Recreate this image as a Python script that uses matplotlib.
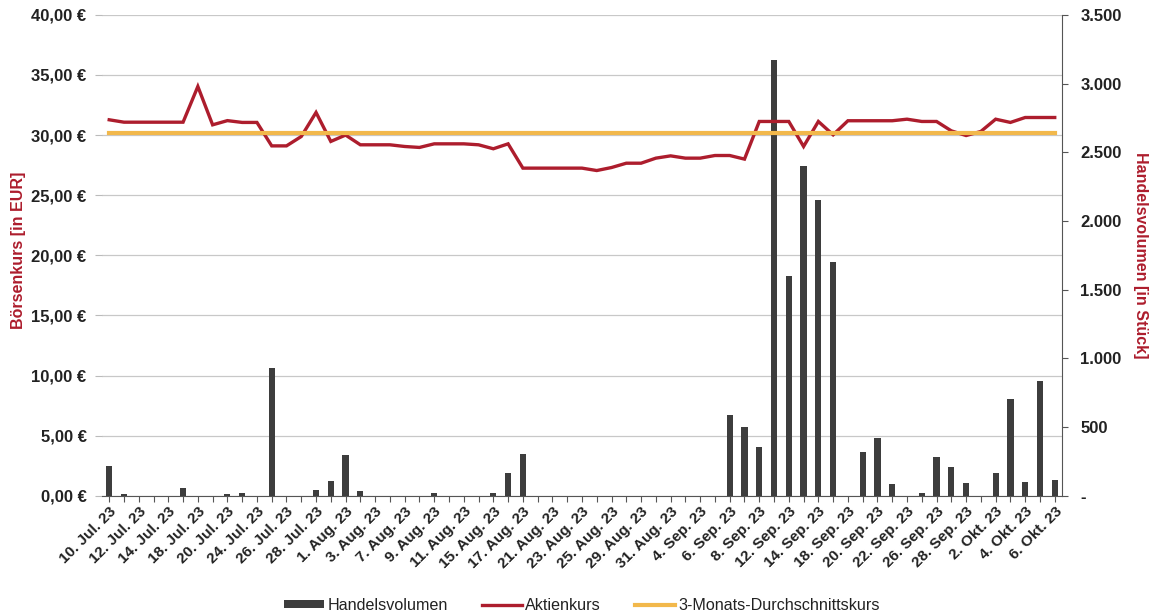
import matplotlib
matplotlib.use("Agg")
import matplotlib.pyplot as plt
from matplotlib.ticker import FuncFormatter

plt.rcParams["font.family"] = ["Liberation Sans", "DejaVu Sans"]

# trading days 10 Jul 2023 - 6 Okt 2023
dates = [
    "10. Jul. 23", "11. Jul. 23", "12. Jul. 23", "13. Jul. 23", "14. Jul. 23",
    "17. Jul. 23", "18. Jul. 23", "19. Jul. 23", "20. Jul. 23", "21. Jul. 23",
    "24. Jul. 23", "25. Jul. 23", "26. Jul. 23", "27. Jul. 23", "28. Jul. 23",
    "31. Jul. 23", "1. Aug. 23", "2. Aug. 23", "3. Aug. 23", "4. Aug. 23",
    "7. Aug. 23", "8. Aug. 23", "9. Aug. 23", "10. Aug. 23", "11. Aug. 23",
    "14. Aug. 23", "15. Aug. 23", "16. Aug. 23", "17. Aug. 23", "18. Aug. 23",
    "21. Aug. 23", "22. Aug. 23", "23. Aug. 23", "24. Aug. 23", "25. Aug. 23",
    "28. Aug. 23", "29. Aug. 23", "30. Aug. 23", "31. Aug. 23", "1. Sep. 23",
    "4. Sep. 23", "5. Sep. 23", "6. Sep. 23", "7. Sep. 23", "8. Sep. 23",
    "11. Sep. 23", "12. Sep. 23", "13. Sep. 23", "14. Sep. 23", "15. Sep. 23",
    "18. Sep. 23", "19. Sep. 23", "20. Sep. 23", "21. Sep. 23", "22. Sep. 23",
    "25. Sep. 23", "26. Sep. 23", "27. Sep. 23", "28. Sep. 23", "29. Sep. 23",
    "2. Okt. 23", "3. Okt. 23", "4. Okt. 23", "5. Okt. 23", "6. Okt. 23",
]

volumen = [
    215, 15, 0, 0, 0, 60, 0, 0, 17, 20,
    0, 932, 0, 0, 44, 107, 298, 34, 0, 0,
    0, 0, 20, 0, 0, 0, 22, 170, 303, 0,
    0, 0, 0, 0, 0, 0, 0, 0, 0, 0,
    0, 0, 590, 502, 353, 3168, 1603, 2402, 2149, 1701,
    0, 322, 420, 85, 0, 20, 286, 213, 92, 0,
    170, 706, 104, 837, 116,
]

aktienkurs = [
    31.27, 31.07, 31.07, 31.07, 31.07, 31.07, 34.04, 30.85, 31.20, 31.05,
    31.05, 29.10, 29.10, 29.88, 31.88, 29.47, 30.00, 29.19, 29.19, 29.19,
    29.05, 28.97, 29.27, 29.27, 29.27, 29.19, 28.86, 29.27, 27.25, 27.25,
    27.25, 27.25, 27.25, 27.05, 27.30, 27.66, 27.66, 28.08, 28.27, 28.08,
    28.08, 28.30, 28.30, 28.00, 31.13, 31.13, 31.13, 29.05, 31.13, 30.02,
    31.19, 31.19, 31.19, 31.19, 31.32, 31.13, 31.13, 30.35, 29.96, 30.30,
    31.32, 31.05, 31.46, 31.46, 31.46,
]

durchschnitt = [30.2] * len(dates)

x = list(range(len(dates)))

red = "#ad1d2d"
orange = "#f2b84b"
bar_col = "#3d3d3d"
txt = "#222222"

fig = plt.figure(figsize=(11.57, 6.16), dpi=100)
ax = fig.add_axes([0.088, 0.195, 0.830, 0.781])
ax2 = ax.twinx()
ax3 = ax.twinx()

# left axis: price scale + grid
ax.set_xlim(-0.5, len(dates) - 0.5)
ax.set_ylim(0, 40)
ax.set_yticks(range(0, 41, 5))
ax.yaxis.set_major_formatter(FuncFormatter(lambda v, p: f"{v:.2f} €".replace(".", ",")))
ax.grid(axis="y", color="#c8c8c8", lw=0.9)
ax.set_axisbelow(True)
for s in ["top", "right", "left"]:
    ax.spines[s].set_visible(False)
ax.spines["bottom"].set_color("#555555")
ax.tick_params(axis="y", length=5, color="#bbbbbb", labelsize=12, labelcolor=txt, pad=6)
for lab in ax.get_yticklabels():
    lab.set_fontweight("bold")
ax.set_xticks(x)
ax.set_xticklabels([d if i % 2 == 0 else "" for i, d in enumerate(dates)],
                   rotation=45, ha="right", rotation_mode="anchor", fontsize=11,
                   color=txt, fontweight="bold")
ax.tick_params(axis="x", length=4, color="#555555", pad=2)
ax.set_ylabel("Börsenkurs [in EUR]", color=red, fontweight="bold", fontsize=11.5, labelpad=-4)
ax.yaxis.set_label_coords(-0.079, 0.51)

# right axis: volume bars
bars = ax2.bar(x, volumen, width=0.42, color=bar_col, label="Handelsvolumen")
ax2.set_ylim(0, 3500)
ax2.set_yticks(range(0, 3501, 500))
ax2.yaxis.set_major_formatter(FuncFormatter(lambda v, p: "-" if v == 0 else f"{int(v):,}".replace(",", ".")))
for s in ["top", "left", "bottom"]:
    ax2.spines[s].set_visible(False)
ax2.spines["right"].set_color("#555555")
ax2.tick_params(axis="y", length=4, color="#555555", labelsize=12, labelcolor=txt, pad=9)
for lab in ax2.get_yticklabels():
    lab.set_fontweight("bold")
ax2.set_ylabel("Handelsvolumen [in Stück]", color=red, fontweight="bold", fontsize=11.5,
               rotation=270, labelpad=19)

# lines on top
l1, = ax3.plot(x, aktienkurs, color=red, lw=2.4, label="Aktienkurs", solid_joinstyle="miter")
l2, = ax3.plot(x, durchschnitt, color=orange, lw=3, label="3-Monats-Durchschnittskurs")
ax3.set_ylim(0, 40)
ax3.set_yticks([])
for s in ax3.spines.values():
    s.set_visible(False)
ax3.set_zorder(ax2.get_zorder() + 1)
ax3.patch.set_visible(False)
ax2.patch.set_visible(False)

leg = fig.legend([bars, l1, l2], ["Handelsvolumen", "Aktienkurs", "3-Monats-Durchschnittskurs"],
                 loc="lower center", bbox_to_anchor=(0.503, -0.018), ncol=3, frameon=False,
                 fontsize=11.6, handlelength=2.5, handletextpad=0.2, columnspacing=2.1,
                 handleheight=0.45)
for t in leg.get_texts():
    t.set_color(txt)

fig.savefig("out.png", dpi=100)
